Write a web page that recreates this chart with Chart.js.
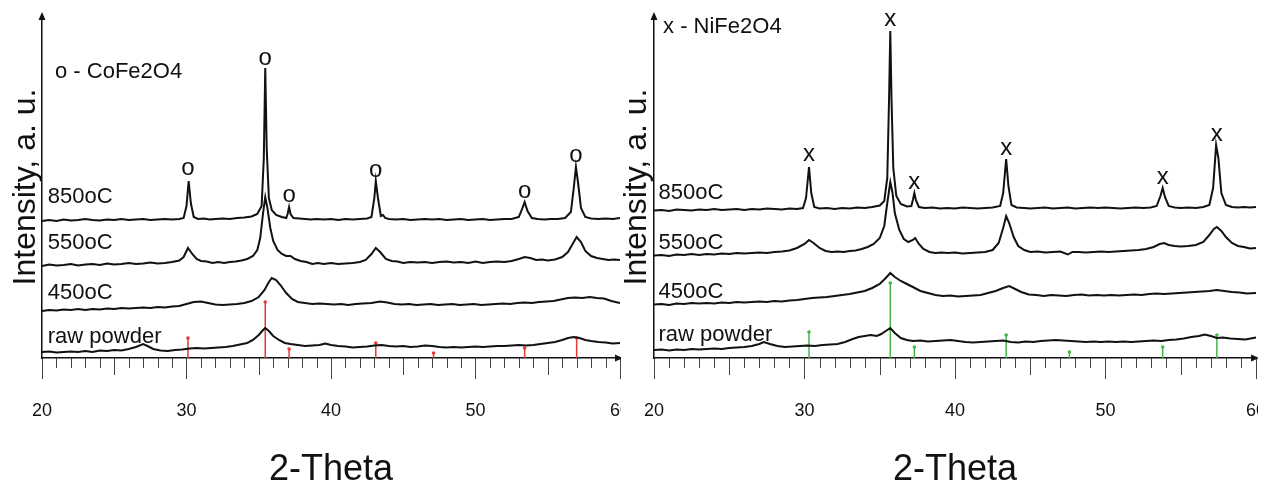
<!DOCTYPE html>
<html>
<head>
<meta charset="utf-8">
<script src="https://cdn.jsdelivr.net/npm/chart.js@4.4.1/dist/chart.umd.min.js"></script>
<style>
  body { margin: 0; background: #fff; width: 1267px; height: 484px; overflow: hidden; position: relative; }
  canvas { position: absolute; top: 0; }
  #left { left: 0; }
  #right { left: 620px; }
</style>
</head>
<body>
<canvas id="left" width="621" height="484"></canvas>
<canvas id="right" width="638" height="484"></canvas>
<script>
// --- data: [2-theta, stacked intensity a.u.] ---
const xTicks = [20, 30, 40, 50, 60];
const sampleNames = ["850oC", "550oC", "450oC", "raw powder"];

// CoFe2O4 panel
const co850 = [[20,137],[20.5,138],[21,137],[21.5,138.5],[22,137.5],[22.5,138],[23,139],[23.5,138],[24,137.5],[24.5,138.5],[25,138],[25.5,139],[26,138],[26.5,138.5],[27,139],[27.5,138],[28,138.5],[28.5,139],[29,138.5],[29.5,139],[29.8,140],[30.0,152],[30.15,177],[30.3,155],[30.5,141],[30.8,139],[31.2,139.5],[31.6,138.5],[32,139],[32.5,139.5],[33,139],[33.5,140],[34,140.5],[34.5,141.5],[34.9,144],[35.2,152],[35.35,200],[35.45,290],[35.55,210],[35.7,160],[35.9,148],[36.2,143],[36.6,141],[36.9,140],[37.0,144],[37.1,151],[37.2,144],[37.4,140],[37.8,139.5],[38.2,139],[38.6,138.5],[39,139],[39.5,138.5],[40,139],[40.5,138],[41,139],[41.5,138.5],[42,139],[42.5,139.5],[42.8,141],[43.0,160],[43.1,177],[43.25,160],[43.45,142],[43.6,143],[43.75,140],[44,139],[44.5,138.5],[45,139],[45.5,138],[46,138.5],[46.5,139],[47,138.5],[47.5,139],[48,138],[48.5,138.5],[49,139],[49.5,138],[50,138.5],[50.5,139],[51,138],[51.5,138.5],[52,139],[52.5,139],[53.0,141],[53.2,148],[53.4,156],[53.6,147],[53.9,140],[54.3,139],[54.8,138.5],[55.2,139],[55.7,139],[56.2,140],[56.6,146],[56.8,170],[56.95,191],[57.1,175],[57.3,150],[57.6,141],[58,139.5],[58.5,139],[59,139.5],[59.5,139],[60,140]];
const co550 = [[20,92],[20.5,93.5],[21,92.5],[21.5,93],[22,94],[22.5,92.5],[23,93.5],[23.5,94],[24,93],[24.5,94.5],[25,93.5],[25.5,94],[26,95],[26.5,94],[27,94.5],[27.5,95.5],[28,94.5],[28.5,95],[29,96],[29.5,97.5],[29.8,101],[30.1,110],[30.4,104],[30.7,99],[31,97],[31.4,96.5],[31.8,95],[32.2,96],[32.6,95],[33,96],[33.4,96.5],[33.8,97.5],[34.2,99],[34.6,102],[34.9,108],[35.1,120],[35.3,145],[35.45,161],[35.6,150],[35.8,130],[36.0,117],[36.3,108],[36.6,104],[36.9,102],[37.2,102],[37.5,99],[37.9,97],[38.3,96],[38.7,94],[39.1,95],[39.5,94],[40,95],[40.5,94],[41,94.5],[41.5,95],[42,96],[42.4,98],[42.8,104],[43.1,110],[43.4,106],[43.8,99],[44.2,97],[44.6,96.5],[45,95],[45.5,96],[46,95.5],[46.5,96],[47,95],[47.5,96],[48,96.5],[48.5,95.5],[49,96],[49.5,95],[50,96.5],[50.5,95],[51,96],[51.5,96.5],[52,96],[52.5,97],[53,99],[53.4,101],[53.8,100],[54.2,98],[54.6,98.5],[55,97.5],[55.5,98.5],[56,101],[56.4,106],[56.8,116],[57.0,121],[57.3,116],[57.6,107],[58,102],[58.4,100],[58.8,99],[59.2,98],[59.6,98.5],[60,98]];
const co450 = [[20,47],[20.5,48],[21,47.5],[21.5,48.5],[22,48],[22.5,49],[23,48],[23.5,49],[24,48.5],[24.5,49.5],[25,49],[25.5,50],[26,49.5],[26.5,50],[27,50.5],[27.5,50],[28,51],[28.5,50.5],[29,51.5],[29.5,52],[30,54],[30.5,56],[31,56.5],[31.5,55],[32,53.5],[32.5,53],[33,53.5],[33.5,54],[34,55],[34.5,57],[35,61],[35.4,68],[35.7,76],[35.9,80],[36.2,78],[36.5,73],[36.9,65],[37.3,59],[37.7,56],[38.2,55],[38.7,54],[39.2,54.5],[39.7,54],[40.2,53.5],[40.7,54],[41.2,53],[41.7,54],[42.2,54.5],[42.8,55],[43.4,56.5],[43.9,55.5],[44.4,54],[44.9,53.5],[45.4,54],[45.9,53],[46.4,53.5],[46.9,54],[47.4,53],[47.9,53.5],[48.4,54],[48.9,53],[49.4,53.5],[49.9,54],[50.4,53],[50.9,53.5],[51.4,54],[51.9,54.5],[52.4,54],[52.9,55],[53.4,55.5],[53.9,55],[54.4,56],[54.9,56.5],[55.4,57],[55.9,58.5],[56.4,60],[56.9,60.5],[57.4,60],[57.9,61],[58.4,60],[58.9,59.5],[59.4,57],[60,55]];
const coRaw = [[20,6],[20.5,6.5],[21,5.5],[21.5,6],[22,6.5],[22.5,6],[23,7],[23.5,6],[24,7.5],[24.5,7],[25,8],[25.5,7.5],[26,9],[26.5,11],[27,14],[27.3,12],[27.7,9],[28.2,7.5],[28.7,7],[29.2,8],[29.7,8.5],[30.2,9.5],[30.7,10],[31.2,9.5],[31.7,10],[32.2,10.5],[32.7,11],[33.2,12],[33.7,13.5],[34.2,15],[34.6,18],[35,23],[35.3,28],[35.45,30],[35.7,27],[36,22],[36.4,18],[36.8,15],[37.2,14],[37.7,13],[38.2,12],[38.7,12.5],[39.2,13],[39.6,14.5],[40,13],[40.5,12],[41,11.5],[41.5,10.5],[42,11],[42.5,11.5],[43,12.5],[43.5,13],[44,12],[44.5,11.5],[45,12],[45.5,11],[46,11.5],[46.5,12.5],[47,12],[47.5,11],[48,10.5],[48.5,11],[49,10.5],[49.5,11],[50,11.5],[50.5,11],[51,11.5],[51.5,12],[52,12],[52.5,12.5],[53,13],[53.5,12.5],[54,13],[54.5,14],[55,15],[55.5,16],[56,18],[56.4,20],[56.8,21],[57.2,20],[57.6,18],[58,17],[58.5,16],[59,15.5],[59.5,14.5],[60,15]];
const coSticksX = [30.1, 35.45, 37.1, 43.1, 47.1, 53.4, 57.0];
const coSticksH = [20, 56, 9, 15, 5, 10, 20];
const coMarksX = [30.1, 35.45, 37.1, 43.1, 53.4, 56.95];
const coMarksY = [190, 300, 163, 188, 167, 203];
const coLabelY = [161, 115, 65, 21];

// NiFe2O4 panel
const ni850 = [[20,147.5],[20.5,148],[21,147],[21.5,148.5],[22,148],[22.5,147.5],[23,148.5],[23.5,148],[24,149],[24.5,148],[25,148.5],[25.5,149],[26,148],[26.5,149],[27,148.5],[27.5,149.5],[28,149],[28.5,148.5],[29,149.5],[29.5,149],[29.9,150],[30.1,160],[30.3,191],[30.45,165],[30.65,151],[31,149.5],[31.5,150],[32,149],[32.5,150],[33,149.5],[33.5,150.5],[34,150],[34.5,151],[35,152.5],[35.3,157],[35.5,180],[35.62,260],[35.7,327],[35.78,260],[35.9,190],[36.1,162],[36.4,154],[36.8,151.5],[37.1,152],[37.2,158],[37.3,165],[37.4,158],[37.6,151],[38,150],[38.5,150.5],[39,149.5],[39.5,150],[40,149.5],[40.5,150.5],[41,150],[41.5,149.5],[42,150],[42.5,150.5],[43,152],[43.2,165],[43.4,199],[43.55,172],[43.75,153],[44.1,150.5],[44.6,150],[45,149.5],[45.5,150],[46,150.5],[46.5,149.5],[47,150],[47.5,150.5],[48,149.5],[48.5,150],[49,150.5],[49.5,150],[50,150.5],[50.5,150],[51,149.5],[51.5,150],[52,150.5],[52.5,150],[53,150.5],[53.4,152],[53.65,162],[53.8,170],[53.95,161],[54.2,152],[54.6,150.5],[55,150],[55.5,150.5],[56,150],[56.5,151],[56.9,153],[57.15,170],[57.35,213],[57.5,200],[57.7,165],[58,153],[58.4,151],[58.8,150.5],[59.2,151],[59.6,150.5],[60,151]];
const ni550 = [[20,102.5],[20.5,103],[21,102],[21.5,103.5],[22,103],[22.5,104],[23,103],[23.5,104],[24,103.5],[24.5,104.5],[25,104],[25.5,105],[26,104.5],[26.5,105],[27,105.5],[27.5,105],[28,106],[28.5,106.5],[29,107.5],[29.5,110],[30,114],[30.3,118],[30.6,115],[31,110],[31.4,107],[31.8,106],[32.2,106.5],[32.6,106],[33,107],[33.4,107.5],[33.8,109],[34.2,111],[34.6,114],[35,120],[35.3,132],[35.5,155],[35.7,176],[35.85,165],[36,145],[36.3,128],[36.6,119],[36.9,116],[37.2,118],[37.35,120],[37.6,114],[37.9,109],[38.3,106],[38.7,105],[39.1,105.5],[39.5,105],[40,105.5],[40.5,104.5],[41,105],[41.5,105.5],[42,106],[42.5,108],[42.9,115],[43.2,130],[43.4,142],[43.6,135],[43.9,121],[44.2,112],[44.6,108],[45,106],[45.5,106.5],[46,105.5],[46.5,106],[47,106.5],[47.5,103.5],[47.8,106],[48.2,106],[48.7,105.5],[49.2,106],[49.7,106.5],[50.2,106],[50.7,106.5],[51.2,107],[51.7,107.5],[52.2,108],[52.7,109],[53.2,111],[53.6,114],[53.9,115],[54.2,113],[54.6,112],[55,111.5],[55.5,112],[56,113],[56.5,116],[56.9,123],[57.2,129],[57.4,131],[57.7,127],[58,121],[58.4,115],[58.8,112],[59.2,111],[59.6,109.5],[60,110]];
const ni450 = [[20,53.5],[20.5,54],[21,53],[21.5,54.5],[22,54],[22.5,55],[23,54.5],[23.5,55],[24,54.5],[24.5,55.5],[25,55],[25.5,56],[26,55.5],[26.5,56],[27,56.5],[27.5,56],[28,57],[28.5,56.5],[29,57.5],[29.5,58],[30,59],[30.5,60],[31,60.5],[31.5,61],[32,62],[32.5,63],[33,64],[33.5,65.5],[34,67],[34.5,70],[35,74],[35.4,80],[35.7,85],[36,81],[36.4,77],[36.8,74],[37.2,71],[37.7,67],[38.2,65],[38.7,63],[39.2,62],[39.7,62.5],[40.2,61.5],[40.7,62],[41.2,62.5],[41.7,63],[42.2,65],[42.7,67],[43.2,70],[43.6,72],[44,69],[44.4,66],[44.9,63.5],[45.4,63],[45.9,62],[46.4,63],[46.9,62.5],[47.4,62],[47.9,63],[48.4,63.5],[48.9,62.5],[49.4,63],[49.9,62.5],[50.4,63],[50.9,62.5],[51.4,63],[51.9,63.5],[52.4,63],[52.9,64],[53.4,64.5],[53.9,64],[54.4,64.5],[54.9,65],[55.4,65.5],[55.9,66],[56.4,66.5],[56.9,67],[57.4,68],[57.9,67],[58.4,66],[58.9,65.5],[59.4,64.5],[60,65]];
const niRaw = [[20,8],[20.5,8.5],[21,7.5],[21.5,8.5],[22,8],[22.5,9],[23,8.5],[23.5,9],[24,9.5],[24.5,9],[25,10],[25.5,10.5],[26,11],[26.5,12],[27,14],[27.3,16],[27.7,14],[28.2,12],[28.7,11],[29.2,11.5],[29.7,12],[30.2,12.5],[30.7,12],[31.2,13],[31.7,13.5],[32.2,14],[32.7,16],[33.2,19],[33.6,21],[34,22],[34.4,23],[34.8,22],[35.1,24],[35.4,27],[35.7,30],[36,25],[36.4,20],[36.8,18],[37.2,17],[37.7,17.5],[38.2,16.5],[38.7,17],[39.2,17.5],[39.7,18],[40.2,17],[40.7,16],[41.2,15.5],[41.7,16],[42.2,16.5],[42.7,17],[43.2,17.5],[43.7,16],[44.2,15.5],[44.7,16.5],[45.2,16],[45.7,17],[46.2,17.5],[46.7,18],[47.2,17.5],[47.7,17],[48.2,16.5],[48.7,16],[49.2,16.5],[49.7,16],[50.2,16.5],[50.7,16],[51.2,16.5],[51.7,16],[52.2,16.5],[52.7,17],[53.2,17.5],[53.7,17],[54.2,18],[54.7,18.5],[55.2,19.5],[55.7,21],[56.2,22],[56.6,23.5],[57,22],[57.4,20],[57.8,20.5],[58.3,19.5],[58.8,19],[59.3,18.5],[60,20.5]];
const niSticksX = [30.3, 35.7, 37.3, 43.4, 47.6, 53.8, 57.4];
const niSticksH = [26, 75, 11, 23, 6, 11, 23];
const niMarksX = [30.3, 35.7, 37.3, 43.4, 53.8, 57.4];
const niMarksY = [204, 339, 176, 210, 181, 224];
const niLabelY = [165, 115, 66, 23];

const FONT = "'Liberation Sans', Arial, sans-serif";
const INK = "#111";

const decor = {
  id: "decor",
  afterDraw(chart, args, o) {
    const { ctx, chartArea: a, scales: { x, y } } = chart;
    ctx.save();
    // minor ticks every degree, a bit longer at the fives
    ctx.strokeStyle = "#444";
    ctx.lineWidth = 1;
    for (let v = 21; v < 60; v++) {
      if (v % 10 === 0) continue;
      const px = Math.round(x.getPixelForValue(v)) + 0.5;
      ctx.beginPath();
      ctx.moveTo(px, a.bottom);
      ctx.lineTo(px, a.bottom + (v % 5 === 0 ? 17 : 10));
      ctx.stroke();
    }
    // axis arrows
    ctx.fillStyle = INK;
    ctx.beginPath();
    ctx.moveTo(a.left, a.top - 4);
    ctx.lineTo(a.left - 3.5, a.top + 4);
    ctx.lineTo(a.left + 3.5, a.top + 4);
    ctx.fill();
    ctx.beginPath();
    ctx.moveTo(a.right + 3, a.bottom);
    ctx.lineTo(a.right - 5, a.bottom - 3.5);
    ctx.lineTo(a.right - 5, a.bottom + 3.5);
    ctx.fill();
    // texts
    ctx.textBaseline = "middle";
    ctx.textAlign = "center";
    ctx.font = "24px " + FONT;
    o.marksX.forEach((m, i) => ctx.fillText(o.mark, x.getPixelForValue(m), y.getPixelForValue(o.marksY[i])));
    ctx.textAlign = "left";
    ctx.font = "22px " + FONT;
    sampleNames.forEach((s, i) => ctx.fillText(s, x.getPixelForValue(o.labelX), y.getPixelForValue(o.labelY[i])));
    ctx.fillText(o.title, x.getPixelForValue(o.titleX), y.getPixelForValue(o.titleY));
    ctx.restore();
  }
};

function stickData(xs, hs) {
  const out = [];
  xs.forEach((v, i) => {
    out.push({ x: v, y: 0 }, { x: v, y: hs[i], top: true }, { x: v, y: null });
  });
  return out;
}

function makeChart(id, traces, sticksX, sticksH, stickColor, o, pad, titlePad) {
  const datasets = traces.map(t => ({
    data: t.map(p => ({ x: p[0], y: p[1] })),
    borderColor: INK,
    borderWidth: 2,
    pointRadius: 0,
    tension: 0
  }));
  datasets.push({
    data: stickData(sticksX, sticksH),
    borderColor: stickColor,
    borderWidth: 1.5,
    spanGaps: false,
    pointRadius: c => (c.raw && c.raw.top ? 1.8 : 0),
    pointBackgroundColor: stickColor,
    pointBorderWidth: 0
  });
  return new Chart(document.getElementById(id), {
    type: "line",
    data: { datasets },
    plugins: [decor],
    options: {
      responsive: false,
      animation: false,
      layout: { padding: pad },
      plugins: { legend: { display: false }, tooltip: { enabled: false }, decor: o },
      scales: {
        x: {
          type: "linear",
          min: 20,
          max: 60,
          offset: false,
          afterBuildTicks: s => { s.ticks = xTicks.map(v => ({ value: v })); },
          afterFit: s => { s.paddingLeft = 0; s.paddingRight = 0; },
          grid: { drawOnChartArea: false, drawTicks: true, tickLength: 21, tickColor: "#444", lineWidth: 1 },
          border: { display: true, color: INK, width: 1.5 },
          ticks: { color: INK, font: { family: FONT, size: 18 }, padding: 21, maxRotation: 0, autoSkip: false },
          title: { display: true, text: "2-Theta", color: INK, font: { family: FONT, size: 36, lineHeight: 0.8 }, padding: { top: 12.6, bottom: 0 } }
        },
        y: {
          min: 0,
          max: 342,
          grid: { display: true, drawOnChartArea: false, drawTicks: false },
          border: { display: true, color: INK, width: 1.5 },
          ticks: { display: false },
          title: { display: true, text: "Intensity, a. u.", color: INK, font: { family: FONT, size: 32, lineHeight: 1 }, padding: titlePad }
        }
      }
    }
  });
}

makeChart("left", [co850, co550, co450, coRaw], coSticksX, coSticksH, "#e53935",
  { mark: "o", marksX: coMarksX, marksY: coMarksY, labelX: 20.4, labelY: coLabelY, title: "o - CoFe2O4", titleX: 20.9, titleY: 286 },
  { left: 0, top: 16, right: 1, bottom: 0 }, { top: 10, bottom: 0 });

makeChart("right", [ni850, ni550, ni450, niRaw], niSticksX, niSticksH, "#43b649",
  { mark: "x", marksX: niMarksX, marksY: niMarksY, labelX: 20.3, labelY: niLabelY, title: "x - NiFe2O4", titleX: 20.6, titleY: 331 },
  { left: 0, top: 16, right: 2, bottom: 0 }, { top: 1, bottom: 1 });
</script>
</body>
</html>
